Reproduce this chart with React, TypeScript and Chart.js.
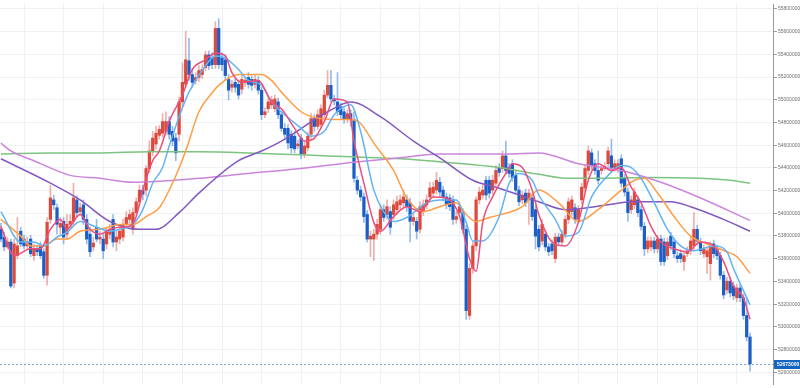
import React, { useEffect, useRef } from "react";
import { Chart, registerables } from "chart.js";

Chart.register(...registerables);

// Prices are stored in thousands of yen.
const PRICE_UNIT = 1000;
const FIRST_INDEX = 5; // slot index of the first visible candle

const opens = [
  53859, 53790, 53704, 53747, 53385, 53627, 53842, 53773, 53713, 53773, 53627, 53687, 53713, 53661, 53454, 53946, 54118, 54049, 53877, 53929,
  53816, 53903, 53929, 54118, 54015, 54075, 53946, 53816, 53704, 53877, 53773, 53773, 53730, 53816, 53946, 53747, 53773, 53790, 53903, 53946,
  53859, 54006, 54101, 54204, 54204, 54394, 54549, 54610, 54687, 54705, 54722, 54808, 54722, 54662, 54696, 54981, 55136, 55343, 55222, 55170,
  55196, 55222, 55283, 55395, 55369, 55309, 55628, 55369, 55352, 55179, 55110, 55153, 55136, 55093, 55153, 55196, 55179, 55136, 55170, 55084,
  54868, 54921, 54955, 54921, 54981, 54868, 54748, 54748, 54696, 54679, 54593, 54662, 54523, 54576, 54696, 54834, 54765, 54782, 54868, 55041,
  55127, 55007, 54981, 54938, 54894, 54825, 54877, 54825, 54291, 54204, 54144, 53989, 53773, 53773, 53816, 53859, 54032, 53989, 54015, 53989,
  54032, 54075, 54092, 54118, 54092, 53929, 53929, 53859, 54015, 54075, 54144, 54178, 54204, 54273, 54204, 54144, 54135, 54118, 53946, 54006,
  54006, 53859, 53100, 53514, 53713, 54118, 54161, 54291, 54291, 54204, 54265, 54403, 54394, 54506, 54403, 54437, 54334, 54204, 54118, 54178,
  54118, 54135, 54032, 53859, 53756, 53816, 53704, 53730, 53601, 53790, 53747, 53816, 53946, 54015, 54049, 53946, 54118, 54222, 54377, 54532,
  54437, 54377, 54377, 54394, 54437, 54506, 54403, 54394, 54480, 54308, 54187, 54032, 54075, 54118, 54032, 53885, 53687, 53704, 53756, 53687,
  53773, 53747, 53626, 53799, 53747, 53626, 53644, 53575, 53644, 53670, 53713, 53859, 53747, 53644, 53618, 53557, 53730, 53687, 53626, 53454,
  53325, 53402, 53359, 53256, 53342, 53256, 53100, 52911,
];
const highs = [
  53911, 53833, 53790, 53773, 53773, 53963, 53877, 53807, 53790, 53807, 53730, 53721, 53747, 53687, 53963, 54248, 54161, 54083, 53963, 53963,
  53989, 53989, 54265, 54152, 54092, 54118, 53989, 53877, 53790, 53946, 53842, 53816, 53877, 53903, 53989, 53842, 53877, 53946, 54015, 54032,
  54049, 54135, 54248, 54248, 54420, 54636, 54722, 54765, 54773, 54877, 54894, 54851, 54765, 54705, 55024, 55326, 55602, 55541, 55274, 55239,
  55300, 55309, 55429, 55429, 55412, 55688, 55714, 55412, 55395, 55222, 55170, 55187, 55170, 55222, 55204, 55239, 55213, 55222, 55204, 55110,
  54929, 55015, 55032, 55041, 55015, 54894, 54791, 54782, 54730, 54722, 54644, 54696, 54627, 54713, 54877, 54868, 54912, 54955, 55084, 55257,
  55257, 55041, 55239, 54972, 54929, 54912, 54912, 54894, 54325, 54239, 54178, 54023, 53842, 53859, 53946, 54075, 54075, 54118, 54058, 54118,
  54152, 54161, 54204, 54161, 54135, 54006, 53963, 54101, 54118, 54161, 54273, 54273, 54360, 54316, 54239, 54178, 54169, 54152, 54015, 54092,
  54040, 53894, 53557, 53747, 54144, 54230, 54248, 54325, 54325, 54334, 54420, 54437, 54549, 54636, 54437, 54472, 54368, 54239, 54196, 54213,
  54213, 54169, 54066, 53894, 53946, 53851, 53738, 53764, 53825, 53825, 53851, 53980, 54135, 54152, 54083, 54066, 54265, 54429, 54592, 54567,
  54472, 54549, 54429, 54446, 54584, 54653, 54472, 54472, 54515, 54342, 54222, 54152, 54222, 54152, 54066, 53920, 53790, 53790, 53790, 53807,
  53807, 53782, 53782, 53833, 53782, 53661, 53678, 53661, 53704, 53790, 54006, 53894, 53782, 53721, 53704, 53747, 53764, 53721, 53661, 53488,
  53437, 53437, 53394, 53376, 53376, 53290, 53256, 52945,
];
const lows = [
  53747, 53670, 53687, 53342, 53342, 53601, 53704, 53687, 53687, 53618, 53584, 53627, 53601, 53428, 53368, 53911, 54032, 53816, 53816, 53730,
  53773, 53877, 53903, 53963, 53989, 53903, 53730, 53618, 53670, 53747, 53730, 53601, 53687, 53773, 53704, 53670, 53730, 53756, 53877, 53911,
  53816, 53980, 54066, 54118, 54152, 54360, 54506, 54567, 54653, 54670, 54687, 54653, 54593, 54463, 54636, 54938, 55110, 55170, 55110, 55136,
  55161, 55187, 55257, 55266, 55274, 55274, 55274, 55257, 55170, 54998, 55067, 55067, 55007, 55050, 55118, 55101, 55084, 55101, 55050, 54825,
  54842, 54885, 54921, 54894, 54834, 54722, 54662, 54567, 54532, 54532, 54567, 54480, 54489, 54549, 54662, 54722, 54739, 54748, 54842, 55015,
  54981, 54955, 54859, 54825, 54791, 54799, 54765, 54273, 54169, 54109, 53920, 53747, 53618, 53584, 53773, 53816, 53929, 53946, 53816, 53946,
  53989, 54040, 54058, 54015, 53747, 53894, 53773, 53824, 53980, 54040, 54109, 54144, 54169, 54152, 54109, 54040, 54023, 53903, 53911, 53980,
  53824, 53066, 53066, 53471, 53670, 54083, 54126, 54118, 54135, 54169, 54230, 54325, 54360, 54343, 54316, 54282, 54169, 54066, 54083, 54058,
  53903, 53937, 53687, 53670, 53721, 53670, 53627, 53635, 53566, 53713, 53713, 53782, 53911, 53980, 53911, 53911, 54083, 54187, 54343, 54386,
  54343, 54256, 54343, 54377, 54403, 54368, 54368, 54360, 54230, 54152, 53928, 53997, 54040, 53971, 53851, 53626, 53652, 53670, 53652, 53652,
  53540, 53540, 53592, 53678, 53609, 53566, 53566, 53497, 53618, 53635, 53678, 53721, 53635, 53609, 53471, 53411, 53609, 53592, 53419, 53247,
  53290, 53264, 53238, 53221, 53221, 53066, 52876, 52609,
];
const closes = [
  53773, 53704, 53747, 53359, 53730, 53713, 53730, 53713, 53747, 53644, 53687, 53661, 53627, 53454, 53920, 54135, 54075, 53903, 53911, 53790,
  53903, 53929, 54135, 54006, 54049, 53946, 53773, 53661, 53738, 53773, 53790, 53670, 53833, 53859, 53747, 53790, 53842, 53903, 53963, 53989,
  54006, 54101, 54204, 54169, 54394, 54549, 54662, 54705, 54739, 54808, 54808, 54696, 54636, 54532, 54981, 55153, 55352, 55222, 55153, 55196,
  55257, 55266, 55395, 55300, 55309, 55628, 55309, 55309, 55213, 55084, 55136, 55110, 55041, 55179, 55170, 55136, 55127, 55179, 55084, 54868,
  54894, 54981, 54998, 55007, 54868, 54748, 54696, 54619, 54576, 54567, 54610, 54523, 54593, 54679, 54834, 54765, 54868, 54921, 55041, 55127,
  55007, 54989, 54894, 54868, 54825, 54877, 54825, 54308, 54204, 54144, 53971, 53773, 53799, 53816, 53903, 54032, 53963, 54058, 53877, 54075,
  54101, 54118, 54144, 54058, 53929, 53963, 53842, 54058, 54075, 54118, 54222, 54230, 54291, 54187, 54144, 54075, 54058, 53946, 53971, 54058,
  53859, 53143, 53514, 53713, 54118, 54187, 54204, 54161, 54178, 54291, 54377, 54360, 54506, 54377, 54351, 54316, 54204, 54101, 54161, 54092,
  54178, 53971, 53799, 53704, 53903, 53704, 53661, 53670, 53790, 53747, 53816, 53946, 54101, 54118, 53946, 54032, 54230, 54394, 54549, 54420,
  54377, 54291, 54394, 54411, 54549, 54403, 54437, 54437, 54265, 54187, 54006, 54118, 54187, 54006, 53885, 53687, 53756, 53756, 53687, 53773,
  53575, 53575, 53747, 53713, 53644, 53601, 53601, 53626, 53670, 53756, 53859, 53756, 53670, 53687, 53670, 53713, 53644, 53626, 53454, 53281,
  53402, 53299, 53273, 53342, 53256, 53100, 52911, 52673,
];

// Moving averages: slot index and value (thousand yen).
const ma5X = [5, 9, 14, 17, 20, 23, 25, 29, 32, 35, 38, 41, 44, 46, 48, 51, 53, 56, 60, 63, 67, 70, 73, 75, 78, 83, 87, 90, 94, 97, 100, 103, 106, 110, 112, 115, 118, 120, 124, 128, 132, 136, 140, 144, 147, 149, 151, 154, 158, 160, 163, 166, 168, 172, 176, 180, 183, 186, 190, 193, 196, 199, 202, 205, 209, 213, 217, 221, 224, 227, 230, 232];
const ma5V = [53885, 53626, 53687, 53687, 53859, 53946, 53859, 53989, 53859, 53816, 53859, 53877, 53885, 53971, 54204, 54463, 54549, 54808, 55041, 55266, 55352, 55412, 55386, 55239, 55153, 55170, 54981, 54920, 54748, 54636, 54662, 54808, 55006, 54981, 54636, 54265, 53920, 53842, 53971, 54058, 54015, 54144, 54135, 53971, 53601, 53489, 53920, 54144, 54351, 54437, 54403, 54204, 53989, 53747, 53713, 53920, 54291, 54437, 54377, 54403, 54230, 54092, 53885, 53747, 53687, 53661, 53747, 53713, 53575, 53359, 53256, 53066];

const ma10X = [5, 11, 15, 18, 22, 25, 29, 34, 38, 41, 45, 48, 51, 54, 56, 59, 62, 67, 70, 73, 77, 80, 84, 87, 90, 96, 99, 103, 106, 111, 114, 118, 121, 124, 128, 134, 138, 143, 146, 148, 151, 156, 159, 162, 166, 168, 173, 176, 180, 184, 189, 193, 196, 199, 203, 207, 211, 215, 221, 225, 227, 232];
const ma10V = [54015, 53747, 53747, 53713, 53790, 53833, 53928, 53877, 53842, 53859, 53902, 54032, 54265, 54403, 54592, 54851, 55067, 55300, 55386, 55369, 55266, 55170, 55127, 54981, 54894, 54748, 54679, 54722, 54868, 54955, 54722, 54204, 54015, 53928, 53963, 54092, 54118, 54118, 53920, 53756, 53756, 53971, 54265, 54351, 54291, 54161, 53946, 53799, 53833, 54144, 54334, 54420, 54403, 54308, 54092, 53859, 53713, 53670, 53713, 53661, 53514, 53195];

const ma25X = [5, 11, 14, 18, 22, 25, 29, 35, 41, 45, 49, 53, 57, 61, 65, 68, 71, 77, 84, 87, 90, 96, 99, 105, 111, 114, 118, 124, 128, 133, 138, 143, 146, 149, 153, 163, 168, 174, 180, 186, 193, 197, 200, 204, 209, 214, 219, 225, 228, 232];
const ma25V = [53946, 53799, 53713, 53713, 53773, 53773, 53842, 53859, 53902, 53902, 53971, 54049, 54265, 54549, 54894, 55024, 55127, 55222, 55222, 55170, 55067, 54894, 54851, 54825, 54825, 54791, 54618, 54377, 54135, 54015, 54058, 54092, 53989, 53928, 53963, 54058, 54204, 54092, 53928, 54032, 54204, 54291, 54308, 54178, 53971, 53799, 53730, 53661, 53618, 53471];

const ma75X = [5, 20, 29, 38, 47, 52, 59, 65, 77, 84, 90, 104, 111, 120, 130, 138, 148, 156, 168, 176, 189, 196, 208, 214, 224, 232];
const ma75V = [54480, 54265, 54118, 53928, 53859, 53859, 54006, 54178, 54463, 54549, 54636, 54894, 54981, 54851, 54636, 54489, 54291, 54221, 54101, 54032, 54075, 54101, 54101, 54058, 53946, 53842];

const ma100X = [5, 8, 15, 26, 35, 45, 53, 65, 80, 96, 108, 126, 138, 158, 168, 180, 193, 205, 217, 232];
const ma100V = [54618, 54549, 54463, 54334, 54308, 54273, 54282, 54308, 54351, 54394, 54437, 54489, 54523, 54523, 54532, 54437, 54377, 54273, 54135, 53937];

const ma200X = [5, 20, 35, 50, 65, 80, 96, 111, 126, 141, 156, 168, 177, 186, 202, 217, 226, 232];
const ma200V = [54523, 54532, 54532, 54541, 54541, 54532, 54515, 54497, 54480, 54446, 54403, 54343, 54308, 54308, 54316, 54308, 54291, 54265];

// Axis settings
const Y_MIN = 52496600;
const Y_MAX = 55843100;
const Y_STEP = 200000;
const X_MIN = 4.727;
const X_MAX = 238.97;
const X_GRID_STEP = 12;

const UP = "#dc4a3d";
const DOWN = "#1b5fc6";
const UP_WICK = "rgba(226,110,100,0.55)";
const DOWN_WICK = "rgba(80,140,220,0.6)";
const GRID = "#edf2f6";

const maSeries = [
  { x: ma5X, v: ma5V, color: "#ee4d7c" },
  { x: ma10X, v: ma10V, color: "#62b3f4" },
  { x: ma25X, v: ma25V, color: "#ff9e45" },
  { x: ma75X, v: ma75V, color: "#8358c0" },
  { x: ma100X, v: ma100V, color: "#cc85dc" },
  { x: ma200X, v: ma200V, color: "#7cc47f" },
];

const lastPricePlugin = {
  id: "lastPrice",
  afterDraw(chart: any) {
    const { ctx, chartArea, scales } = chart;
    const price = closes[closes.length - 1] * PRICE_UNIT;
    const y = scales.y.getPixelForValue(price);
    ctx.save();
    ctx.strokeStyle = "rgba(90,130,205,0.75)";
    ctx.lineWidth = 1;
    ctx.setLineDash([2, 2]);
    ctx.beginPath();
    ctx.moveTo(chartArea.left, Math.round(y) + 0.5);
    ctx.lineTo(chartArea.right, Math.round(y) + 0.5);
    ctx.stroke();
    ctx.setLineDash([]);
    ctx.fillStyle = "#1565c0";
    ctx.fillRect(chartArea.right + 1, Math.round(y) - 4, chart.width - chartArea.right - 1, 9);
    ctx.fillStyle = "#ffffff";
    ctx.font = "bold 5px 'Liberation Sans', Arial, sans-serif";
    ctx.textAlign = "left";
    ctx.textBaseline = "middle";
    ctx.fillText(String(price), chartArea.right + 4, Math.round(y) + 0.5);
    ctx.restore();
  },
};

export default function App() {
  const canvasRef = useRef<HTMLCanvasElement | null>(null);

  useEffect(() => {
    document.body.style.margin = "0";
    const canvas = canvasRef.current;
    if (!canvas) return;

    const bodyData = closes.map((c, k) => ({ x: FIRST_INDEX + k, y: [opens[k] * PRICE_UNIT, c * PRICE_UNIT] }));
    const wickData = closes.map((_c, k) => ({ x: FIRST_INDEX + k, y: [lows[k] * PRICE_UNIT, highs[k] * PRICE_UNIT] }));
    const bodyColors = closes.map((c, k) => (c >= opens[k] ? UP : DOWN));
    const wickColors = closes.map((c, k) => (c >= opens[k] ? UP_WICK : DOWN_WICK));

    const lineSets = maSeries.map((s, n) => ({
      type: "line" as const,
      data: s.x.map((x, k) => ({ x, y: s.v[k] * PRICE_UNIT })),
      borderColor: s.color,
      borderWidth: 1.5,
      pointRadius: 0,
      fill: false,
      cubicInterpolationMode: "monotone" as const,
      order: n,
    }));

    const chart = new Chart(canvas, {
      type: "bar",
      data: {
        datasets: [
          ...lineSets,
          {
            type: "bar",
            data: bodyData as any,
            backgroundColor: bodyColors,
            borderWidth: 0,
            barThickness: 2.6,
            grouped: false,
            minBarLength: 1,
            order: 10,
          } as any,
          {
            type: "bar",
            data: wickData as any,
            backgroundColor: wickColors,
            borderWidth: 0,
            barThickness: 1,
            grouped: false,
            order: 11,
          } as any,
        ],
      },
      options: {
        animation: false,
        responsive: false,
        maintainAspectRatio: false,
        devicePixelRatio: 1,
        events: [],
        layout: { padding: 0 },
        plugins: { legend: { display: false }, tooltip: { enabled: false } },
        scales: {
          x: {
            type: "linear",
            min: X_MIN,
            max: X_MAX,
            offset: false,
            ticks: { display: false },
            grid: { color: GRID, drawTicks: false, offset: false },
            border: { display: false },
            afterBuildTicks: (scale: any) => {
              const t = [];
              for (let v = Math.ceil(X_MIN / X_GRID_STEP) * X_GRID_STEP; v < X_MAX; v += X_GRID_STEP) t.push({ value: v });
              scale.ticks = t;
            },
          },
          y: {
            type: "linear",
            position: "right",
            min: Y_MIN,
            max: Y_MAX,
            ticks: {
              color: "#6f6f6f",
              padding: 1,
              autoSkip: false,
              maxTicksLimit: 100,
              font: { size: 5, family: "'Liberation Sans', Arial, sans-serif" },
              callback: (v: any) => String(v),
            },
            grid: { color: GRID, tickLength: 4, tickColor: "#9a9a9a" },
            border: { color: "#9a9a9a" },
            afterBuildTicks: (scale: any) => {
              const t = [];
              for (let v = Math.ceil(Y_MIN / Y_STEP) * Y_STEP; v <= Y_MAX; v += Y_STEP) t.push({ value: v });
              scale.ticks = t;
            },
            afterFit: (scale: any) => {
              scale.width = 27;
            },
          },
        },
      },
      plugins: [lastPricePlugin],
    } as any);

    return () => chart.destroy();
  }, []);

  return (
    <div style={{ width: 800, height: 388, position: "relative" }}>
      <canvas ref={canvasRef} width={800} height={388} style={{ display: "block", width: 800, height: 388 }} />
    </div>
  );
}
